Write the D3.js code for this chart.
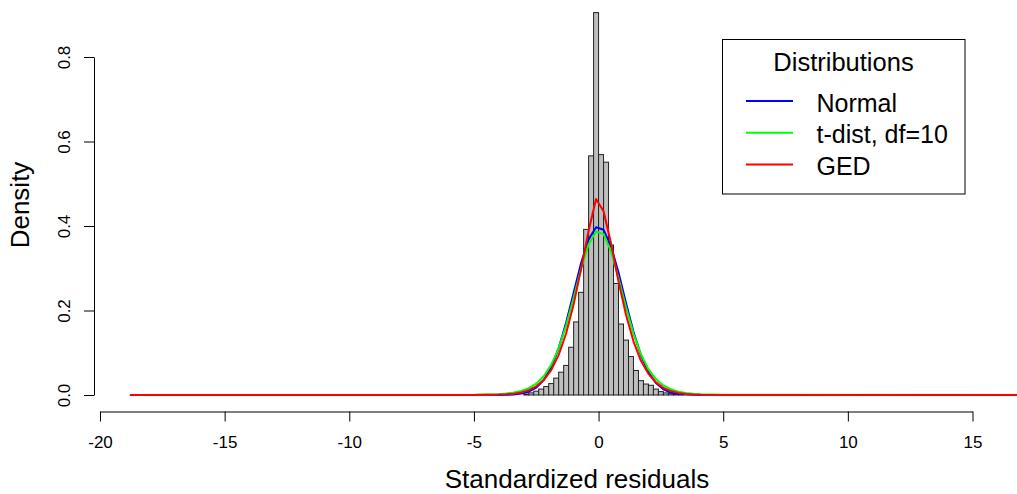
<!DOCTYPE html>
<html>
<head>
<meta charset="utf-8">
<script src="https://cdn.jsdelivr.net/npm/d3@7"></script>
<style>
  body { margin: 0; background: #fff; }
  text { font-family: "Liberation Sans", Arial, sans-serif; }
</style>
</head>
<body>
<div id="chart"></div>
<script>
// histogram: bins of 0.2 starting at -3.0
const binFrom = -3.0;
const binWidth = 0.2;
const density = [0.002, 0.005, 0.009, 0.014, 0.020, 0.027, 0.040, 0.054, 0.070, 0.113,
                 0.173, 0.243, 0.392, 0.566, 0.905, 0.569, 0.551, 0.355, 0.264, 0.168,
                 0.130, 0.091, 0.058, 0.034, 0.026, 0.023, 0.014, 0.008, 0.005, 0.003,
                 0.002, 0.001];

// fitted density curves
const curveX = [-18.8, -5.0, -4.0, -3.7, -3.4, -3.1, -2.8, -2.5, -2.2, -1.9, -1.6, -1.3, -1.0, -0.7, -0.4, -0.1,
                0.2, 0.5, 0.8, 1.1, 1.4, 1.7, 2.0, 2.3, 2.6, 2.9, 3.2, 3.5, 3.8, 4.1, 5.0, 17.0];
const normalY = [0, 0, 0.0001, 0.0004, 0.0012, 0.0033, 0.0079, 0.0175, 0.0355, 0.0656, 0.1109, 0.1714, 0.2420, 0.3123, 0.3683, 0.3970,
                 0.3910, 0.3521, 0.2897, 0.2179, 0.1497, 0.0940, 0.0540, 0.0283, 0.0136, 0.0060, 0.0024, 0.0009, 0.0003, 0.0001, 0, 0];
const tY = [0, 0.0004, 0.0020, 0.0034, 0.0057, 0.0096, 0.0161, 0.0269, 0.0444, 0.0714, 0.1111, 0.1649, 0.2304, 0.2991, 0.3566, 0.3870,
            0.3807, 0.3397, 0.2766, 0.2076, 0.1454, 0.0963, 0.0611, 0.0377, 0.0227, 0.0136, 0.0080, 0.0048, 0.0029, 0.0018, 0.0004, 0];
const gedY = [0, 0.0001, 0.0009, 0.0016, 0.0032, 0.0062, 0.0114, 0.0204, 0.0354, 0.0591, 0.0949, 0.1462, 0.2146, 0.2985, 0.389, 0.464,
              0.435, 0.359, 0.269, 0.190, 0.127, 0.081, 0.050, 0.030, 0.017, 0.0093, 0.0050, 0.0026, 0.0013, 0.0006, 0.0001, 0];

const xTicks = [-20, -15, -10, -5, 0, 5, 10, 15];
const yTicks = [0, 0.2, 0.4, 0.6, 0.8];

const series = [
  { name: "Normal", values: normalY, color: "#0000ff" },
  { name: "t-dist, df=10", values: tY, color: "#00ff00" },
  { name: "GED", values: gedY, color: "#ff0000" }
];

const W = 1017, H = 494;

const svg = d3.select("#chart")
  .append("svg")
  .attr("width", W)
  .attr("height", H);

const x = d3.scaleLinear().domain([-20, 15]).range([100, 972.5]);
const y = d3.scaleLinear().domain([0, 0.8]).range([395, 57]);

svg.append("clipPath").attr("id", "plotClip")
  .append("rect")
  .attr("x", 94).attr("y", 0)
  .attr("width", W - 94).attr("height", 411);

const plot = svg.append("g").attr("clip-path", "url(#plotClip)");

// bars
plot.selectAll("rect.bar")
  .data(density)
  .enter().append("rect")
  .attr("class", "bar")
  .attr("x", (d, i) => x(binFrom + i * binWidth))
  .attr("y", d => y(d))
  .attr("width", (d, i) => x(binFrom + (i + 1) * binWidth) - x(binFrom + i * binWidth))
  .attr("height", d => y(0) - y(d))
  .attr("fill", "#bebebe")
  .attr("stroke", "#222")
  .attr("stroke-width", 1);

const line = d3.line()
  .x((d, i) => x(curveX[i]))
  .y(d => y(d));

series.forEach(s => {
  plot.append("path")
    .datum(s.values)
    .attr("d", line)
    .attr("fill", "none")
    .attr("stroke", s.color)
    .attr("stroke-width", 2)
    .attr("stroke-linejoin", "round");
});

// x axis
const xAxis = svg.append("g")
  .attr("transform", "translate(0, 411.5)")
  .call(d3.axisBottom(x).tickValues(xTicks).tickSize(10).tickSizeOuter(0).tickFormat(d => String(d)));
xAxis.selectAll("text")
  .attr("y", 36.5).attr("dy", 0)
  .style("font-size", "17px").attr("fill", "#000");
xAxis.selectAll("line, path").attr("stroke", "#000");

// y axis
const yAxis = svg.append("g")
  .attr("transform", "translate(94, 0)")
  .call(d3.axisLeft(y).tickValues(yTicks).tickSize(10).tickSizeOuter(0).tickFormat(d => d.toFixed(1)));
yAxis.selectAll("text")
  .attr("transform", "rotate(-90)")
  .attr("x", 0).attr("y", -24).attr("dy", 0)
  .attr("text-anchor", "middle")
  .style("font-size", "17px").attr("fill", "#000");
yAxis.selectAll("line, path").attr("stroke", "#000");

// axis titles
svg.append("text")
  .attr("x", 577).attr("y", 488)
  .attr("text-anchor", "middle")
  .style("font-size", "26px")
  .text("Standardized residuals");

svg.append("text")
  .attr("transform", "translate(29, 205) rotate(-90)")
  .attr("text-anchor", "middle")
  .style("font-size", "26px")
  .text("Density");

// legend
const legend = svg.append("g").attr("transform", "translate(722.5, 39.5)");

legend.append("rect")
  .attr("width", 242.5)
  .attr("height", 154.5)
  .attr("fill", "#fff")
  .attr("stroke", "#000");

legend.append("text")
  .attr("x", 121).attr("y", 31)
  .attr("text-anchor", "middle")
  .style("font-size", "25.5px")
  .text("Distributions");

series.forEach((s, i) => {
  const row = legend.append("g")
    .attr("transform", `translate(0, ${61.5 + i * 31.7})`);
  row.append("line")
    .attr("x1", 23.5).attr("x2", 70.5)
    .attr("stroke", s.color)
    .attr("stroke-width", 2);
  row.append("text")
    .attr("x", 94).attr("y", 10.5)
    .style("font-size", "25px")
    .text(s.name);
});
</script>
</body>
</html>
